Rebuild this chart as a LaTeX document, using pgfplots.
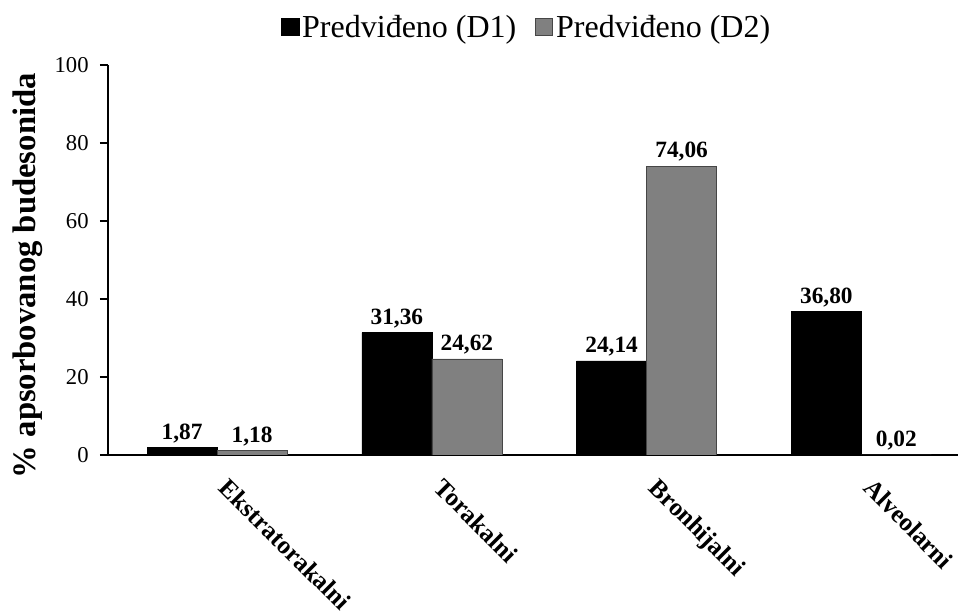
\documentclass[border=0pt]{standalone}
\usepackage{pgfplots}
\pgfplotsset{compat=1.18}
\usepackage{fontspec}
\setmainfont{Liberation Serif}
\definecolor{barGray}{RGB}{128,128,128}
\definecolor{barEdge}{RGB}{70,70,70}
\begin{document}
\begin{tikzpicture}
\begin{axis}[
  at={(0,0)}, anchor=south west,
  scale only axis,
  width=637.5pt, height=292.5pt,
  xmin=-0.508, xmax=3.45,
  ymin=0, ymax=100,
  ytick={0,20,40,60,80,100},
  xtick={0,1,2,3},
  xticklabels={Ekstratorakalni,Torakalni,Bronhijalni,Alveolarni},
  axis x line*=bottom, axis y line*=left,
  axis line style={line width=1.4pt, -},
  tick align=outside,
  major tick length=6pt,
  ytick style={line width=1.4pt, black},
  xtick style={draw=none},
  /pgf/number format/assume math mode=true,
  yticklabel style={font=\fontsize{17}{19}\selectfont, xshift=-5pt},
  xticklabel style={font=\bfseries\fontsize{19}{21}\selectfont, xshift=10pt, yshift=-5.5pt, rotate=-45, anchor=north west},
  ylabel={\% apsorbovanog budesonida},
  ylabel style={font=\bfseries\fontsize{24.5}{27}\selectfont, at={(ticklabel cs:0.46)}, yshift=2pt},
  ybar=0pt,
  bar width=0.326,
  nodes near coords,
  nodes near coords style={font=\bfseries\fontsize{17.5}{19}\selectfont, /pgf/number format/.cd, fixed, fixed zerofill, precision=2, use comma, assume math mode=true},
  legend style={at={(0.493,1.097)}, anchor=center, draw=none, fill=none,
    legend columns=2, font=\fontsize{24}{27}\selectfont,
    /tikz/every even column/.append style={column sep=12pt},
    legend cell align=left},
  legend image code/.code={\draw[#1, line width=0.8pt] (0pt,-6.5pt) rectangle (13pt,6.5pt);},
]
\addplot[fill=black, draw=black, bar shift=-0.163] coordinates {(0,1.87) (1,31.36) (2,24.14) (3,36.80)};
\addplot[fill=barGray, draw=barEdge, bar shift=0.163] coordinates {(0,1.18) (1,24.62) (2,74.06) (3,0.02)};
\legend{Predviđeno (D1),Predviđeno (D2)}
\end{axis}
\pgfresetboundingbox
\path (-81pt,-119.25pt) rectangle (637.5pt,341.25pt);
\end{tikzpicture}
\end{document}
